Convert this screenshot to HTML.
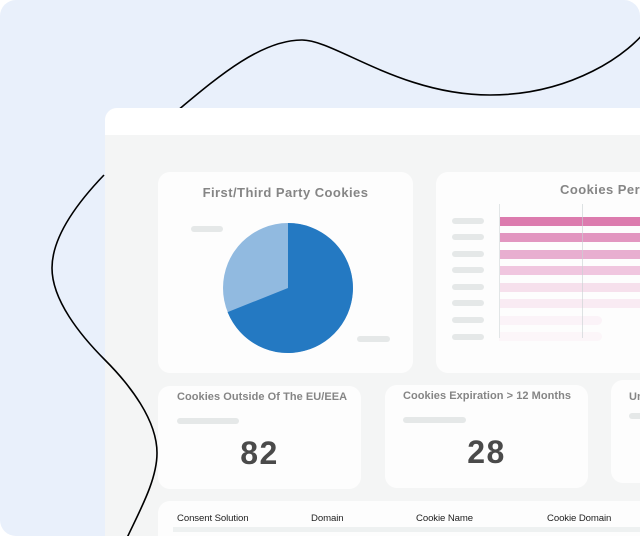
<!DOCTYPE html>
<html><head><meta charset="utf-8">
<style>
*{margin:0;padding:0;box-sizing:border-box}
html,body{width:640px;height:536px;overflow:hidden;background:#fff;font-family:"Liberation Sans",sans-serif}
#wrap{position:relative;width:640px;height:536px;overflow:hidden}
.bg{position:absolute;left:0;top:0;width:640px;height:536px;background:#E9F0FB;border-radius:16px}
.panel{position:absolute;left:105px;top:108px;width:535px;height:428px;background:#F4F5F5;border-top-left-radius:12px;overflow:hidden}
.hdr{position:absolute;left:0;top:0;width:100%;height:27px;background:#fff}
.card{position:absolute;background:#FDFDFD;border-radius:12px}
.pill{position:absolute;height:6px;border-radius:3px;background:#E5E8E8}
.t{position:absolute;white-space:nowrap;color:#858585;font-weight:bold}
.num{position:absolute;font-size:32px;font-weight:bold;color:#4a4a4a;letter-spacing:1.5px;white-space:nowrap}
.bar{position:absolute;left:499px;height:9px}
.th{position:absolute;top:513px;font-size:9.6px;color:#222;white-space:nowrap;letter-spacing:-0.1px}
</style></head><body>
<div id="wrap">
<div class="bg"></div>
<svg style="position:absolute;left:0;top:0" width="640" height="536">
<path d="M650,25 C630,55 570,95 490,95 C400,95 335,40 302,40 C262,40 220,75 180,108.5" fill="none" stroke="#000" stroke-width="1.6"/>
</svg>
<div class="panel"><div class="hdr"></div></div>

<!-- card 1 -->
<div class="card" style="left:158px;top:172px;width:255px;height:201px"></div>
<div class="t" style="left:158px;width:255px;text-align:center;top:185px;font-size:13px;letter-spacing:0.45px">First/Third Party Cookies</div>
<div class="pill" style="left:191px;top:226px;width:32px"></div>
<div class="pill" style="left:357px;top:336px;width:33px"></div>
<svg style="position:absolute;left:0;top:0" width="640" height="536">
<circle cx="288" cy="288" r="65" fill="#91BAE0"/>
<path d="M288,288 L288,223 A65,65 0 1,1 227.6,312.1 Z" fill="#2479C2"/>
</svg>

<!-- card 2 -->
<div class="card" style="left:436px;top:172px;width:216px;height:201px"></div>
<div class="t" style="left:560px;top:182px;font-size:13px;letter-spacing:0.45px">Cookies Per Category</div>
<div class="pill" style="left:452px;top:218px;width:32px"></div>
<div class="pill" style="left:452px;top:234px;width:32px"></div>
<div class="pill" style="left:452px;top:251px;width:32px"></div>
<div class="pill" style="left:452px;top:267px;width:32px"></div>
<div class="pill" style="left:452px;top:284px;width:32px"></div>
<div class="pill" style="left:452px;top:300px;width:32px"></div>
<div class="pill" style="left:452px;top:317px;width:32px"></div>
<div class="pill" style="left:452px;top:334px;width:32px"></div>
<div class="bar" style="top:217px;width:141px;background:#DC7BAE"></div>
<div class="bar" style="top:233px;width:141px;background:#E296C0"></div>
<div class="bar" style="top:250px;width:141px;background:#E8AED0"></div>
<div class="bar" style="top:266px;width:141px;background:#F0C6DF"></div>
<div class="bar" style="top:283px;width:141px;background:#F6E0EC"></div>
<div class="bar" style="top:299px;width:141px;background:#F9EBF3"></div>
<div class="bar" style="top:316px;width:103px;background:#FBF3F8;border-radius:0 5px 5px 0"></div>
<div class="bar" style="top:332px;width:103px;background:#FCF6F9;border-radius:0 5px 5px 0"></div>
<div style="position:absolute;left:499px;top:204px;width:1px;height:134px;background:#E2E6E7"></div>
<div style="position:absolute;left:582px;top:204px;width:1px;height:134px;background:rgba(200,208,210,0.6)"></div>

<!-- row 2 -->
<div class="card" style="left:158px;top:386px;width:203px;height:103px"></div>
<div class="t" style="left:177px;top:391px;font-size:11px;letter-spacing:0.05px">Cookies Outside Of The EU/EEA</div>
<div class="pill" style="left:177px;top:418px;width:62px"></div>
<div class="num" style="left:158px;width:203px;text-align:center;top:435px">82</div>

<div class="card" style="left:385px;top:385px;width:203px;height:103px"></div>
<div class="t" style="left:403px;top:390px;font-size:11px;letter-spacing:0.05px">Cookies Expiration &gt; 12 Months</div>
<div class="pill" style="left:403px;top:417px;width:63px"></div>
<div class="num" style="left:385px;width:203px;text-align:center;top:434px">28</div>

<div class="card" style="left:611px;top:380px;width:40px;height:103px"></div>
<div class="t" style="left:629px;top:391px;font-size:11px;letter-spacing:0.05px">Un</div>
<div class="pill" style="left:629px;top:413px;width:20px"></div>

<!-- table -->
<div class="card" style="left:158px;top:501px;width:494px;height:60px"></div>
<div class="th" style="left:177px">Consent Solution</div>
<div class="th" style="left:311px">Domain</div>
<div class="th" style="left:416px">Cookie Name</div>
<div class="th" style="left:547px">Cookie Domain</div>
<div style="position:absolute;left:173px;top:527px;width:467px;height:5px;background:#EEF1F1"></div>

<svg style="position:absolute;left:0;top:0" width="640" height="536">
<path d="M104,175 C80,200 52,235 52,268 C52,300 80,335 105,360 C130,385 157,420 157,453 C157,480 140,510 126,540" fill="none" stroke="#000" stroke-width="1.6"/>
</svg>
</div>
</body></html>
